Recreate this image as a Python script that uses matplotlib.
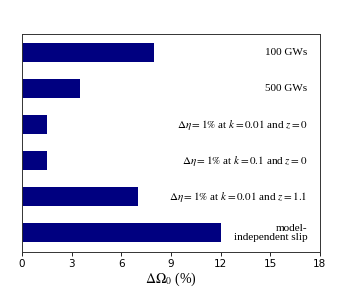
import matplotlib
matplotlib.use('Agg')
import matplotlib.pyplot as plt
import numpy as np

plt.rcParams['mathtext.fontset'] = 'stix'

# bar values, top to bottom
labels = ['100 GWs', '500 GWs',
          r'$\Delta\eta = 1\%$ at $k = 0.01$ and $z = 0$',
          r'$\Delta\eta = 1\%$ at $k = 0.1$ and $z = 0$',
          r'$\Delta\eta = 1\%$ at $k = 0.01$ and $z = 1.1$',
          'model-\nindependent slip']
values = [8, 3.5, 1.5, 1.5, 7, 12]
xticks = [0, 3, 6, 9, 12, 15, 18]

fig = plt.figure(figsize=(3.59, 2.88), dpi=100)
ax = fig.add_axes([0.061, 0.125, 0.83, 0.757])

ypos = np.arange(len(values))[::-1]
ax.barh(ypos, values, height=0.53, color='#000080')

for y, lab in zip(ypos, labels):
    ax.text(17.25, y, lab, ha='right', va='center', fontsize=8,
            family='Liberation Serif', linespacing=1.05)

ax.set_xlim(0, 18)
ax.set_ylim(-0.53, 5.51)
ax.set_xticks(xticks)
ax.tick_params(axis='x', labelsize=7.5, length=3, width=0.6, pad=2)
ax.set_yticks([])
ax.set_xlabel(r'$\Delta\Omega_0$ (%)', fontsize=10, family='Liberation Serif', labelpad=1)
for s in ax.spines.values():
    s.set_linewidth(0.7)
    s.set_color('#333333')

fig.savefig('out.png', dpi=100)
